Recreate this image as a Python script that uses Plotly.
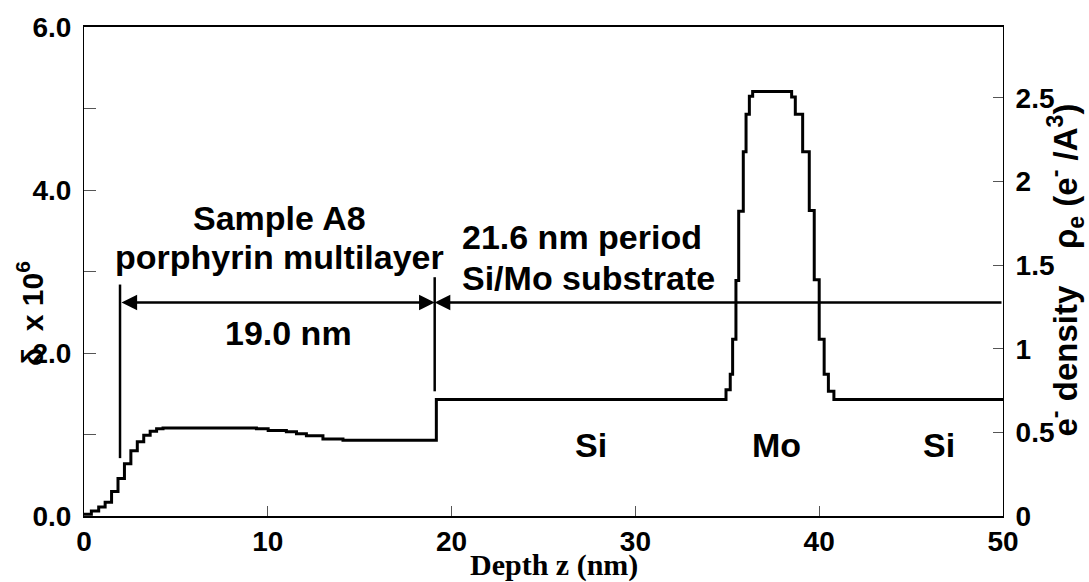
import plotly.graph_objects as go

# ---- density profile (delta x 1e6 vs depth), drawn as a step profile ----
depth_nm = [0.00, 0.40, 0.80, 1.15, 1.50, 1.85, 2.20, 2.55, 2.90, 3.25, 3.60, 3.95, 4.30,
            9.38, 10.02, 11.01, 11.56, 12.10, 13.00, 14.09, 19.17,
            34.93, 35.16, 35.29, 35.47, 35.62, 35.87, 36.02, 36.20, 36.38,
            38.50, 38.70, 39.10, 39.46, 39.73, 40.00, 40.27, 40.50, 40.80, 50.00]
delta_e6 = [0.02, 0.06, 0.11, 0.17, 0.30, 0.46, 0.64, 0.80, 0.91, 0.99, 1.04, 1.07, 1.08,
            1.07, 1.05, 1.035, 1.01, 0.985, 0.945, 0.93, 1.43,
            1.55, 1.74, 2.17, 2.89, 3.74, 4.47, 4.93, 5.15, 5.21,
            5.14, 4.93, 4.47, 3.75, 2.90, 2.17, 1.74, 1.53, 1.43, 1.43]

# axis settings
x_ticks = [0, 10, 20, 30, 40, 50]
y_left_ticks = [0, 2, 4, 6]
y_left_text = ["0.0", "2.0", "4.0", "6.0"]
y_right_ticks = [0, 0.5, 1, 1.5, 2, 2.5]
y_right_top = 2.923

# markers for the layer boundaries and the dimension arrows
film_start_nm = 1.96
film_end_nm = 19.08
left_bar = (0.71, 2.84)
right_bar = (1.53, 2.93)
arrow_level = 2.62

# plot-area geometry in pixels (for placing axis titles)
W, H = 1089, 582
ML, MR, MT, MB = 84, 86, 22, 66
PW, PH = W - ML - MR, H - MT - MB


def px_x(px):
    return (px - ML) / PW


def px_y(py):
    return (H - MB - py) / PH


SANS = "Liberation Sans"
SERIF = "Liberation Serif"

fig = go.Figure()
fig.add_trace(go.Scatter(
    x=depth_nm, y=delta_e6, mode="lines", line_shape="hv",
    line=dict(color="black", width=3), showlegend=False, hoverinfo="skip"))
# invisible trace to activate the right-hand axis
fig.add_trace(go.Scatter(x=[0], y=[0], yaxis="y2", mode="markers",
                         marker=dict(opacity=0), showlegend=False, hoverinfo="skip"))

# vertical boundary bars
for zx, (y0, y1) in [(film_start_nm, left_bar), (film_end_nm, right_bar)]:
    fig.add_shape(type="line", xref="x", yref="y", x0=zx, x1=zx, y0=y0, y1=y1,
                  line=dict(color="black", width=2.5))

# dimension arrows
fig.add_annotation(x=film_end_nm, y=arrow_level, ax=film_start_nm, ay=arrow_level,
                   xref="x", yref="y", axref="x", ayref="y", text="",
                   showarrow=True, arrowhead=2, startarrowhead=2, arrowside="end+start",
                   arrowsize=1.3, startarrowsize=1.3, arrowwidth=2.4, arrowcolor="black")
fig.add_annotation(x=film_end_nm, y=arrow_level, ax=50, ay=arrow_level,
                   xref="x", yref="y", axref="x", ayref="y", text="",
                   showarrow=True, arrowhead=2, arrowsize=1.3, arrowwidth=2.4,
                   arrowcolor="black")

ann_font = dict(family=SANS, size=34, color="black", weight="bold")
labels = [
    ("Sample A8", 10.65, 3.66, "center"),
    ("porphyrin multilayer", 10.65, 3.18, "center"),
    ("19.0 nm", 11.1, 2.25, "center"),
    ("21.6 nm period", 20.45, 3.42, "left"),
    ("Si/Mo substrate", 20.45, 2.92, "left"),
    ("Si", 27.6, 0.87, "center"),
    ("Mo", 37.65, 0.87, "center"),
    ("Si", 46.5, 0.87, "center"),
]
for txt, zx, yv, anchor in labels:
    fig.add_annotation(x=zx, y=yv, xref="x", yref="y", text="<b>%s</b>" % txt,
                       showarrow=False, xanchor=anchor, yanchor="middle", font=ann_font)

# axis titles
fig.add_annotation(x=px_x(30), y=px_y(312), xref="paper", yref="paper",
                   xanchor="center", yanchor="middle",
                   text="<b>δ  x 10<sup>6</sup></b>", showarrow=False, textangle=-90,
                   font=dict(family=SANS, size=30, color="black", weight="bold"))
fig.add_annotation(x=px_x(1066), y=px_y(268), xref="paper", yref="paper",
                   xanchor="center", yanchor="middle",
                   text="<b>e<sup>-</sup> density&nbsp;&nbsp;&nbsp;&nbsp;ρ<sub>e</sub> "
                        "(e<sup>-</sup> /A<sup>3</sup>)</b>",
                   showarrow=False, textangle=-90,
                   font=dict(family=SANS, size=33, color="black", weight="bold"))
fig.add_annotation(x=px_x(554), y=px_y(565), xref="paper", yref="paper",
                   xanchor="center", yanchor="middle",
                   text="<b>Depth z (nm)</b>", showarrow=False,
                   font=dict(family=SERIF, size=30, color="black", weight="bold"))

tick_font = dict(family=SANS, size=28, color="black", weight="bold")
fig.update_layout(
    width=W, height=H,
    margin=dict(l=ML, r=MR, t=MT, b=MB),
    paper_bgcolor="white", plot_bgcolor="white",
    showlegend=False,
    xaxis=dict(range=[0, 50], tickvals=x_ticks, ticks="inside", ticklen=10,
               tickcolor="#555", tickwidth=1, showline=True, linecolor="black",
               linewidth=1.5, mirror=True, showgrid=False, zeroline=False,
               tickfont=tick_font, ticklabelstandoff=0),
    yaxis=dict(range=[0, 6], tickvals=y_left_ticks, ticktext=y_left_text,
               ticks="inside", ticklen=12, tickcolor="#555", tickwidth=1,
               minor=dict(dtick=1, ticks="inside", ticklen=12, tickcolor="#555", tickwidth=1),
               showline=True, linecolor="black", linewidth=1, showgrid=False,
               zeroline=False, tickfont=tick_font, ticklabelstandoff=6),
    yaxis2=dict(range=[0, y_right_top], tickvals=y_right_ticks, overlaying="y",
                side="right", anchor="x", ticks="inside", ticklen=10, tickcolor="#555",
                tickwidth=1, showline=True, linecolor="black", linewidth=1,
                showgrid=False, zeroline=False, tickfont=tick_font, ticklabelstandoff=6),
)

fig.write_html("out.html")
